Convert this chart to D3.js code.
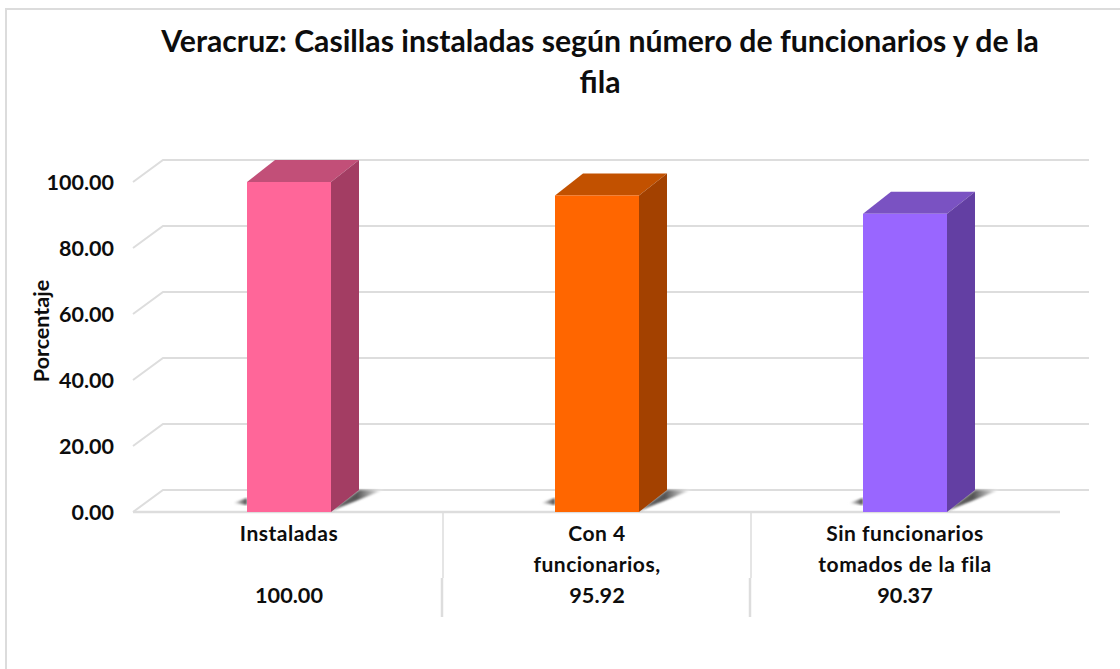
<!DOCTYPE html>
<html>
<head>
<meta charset="utf-8">
<script src="https://cdn.jsdelivr.net/npm/d3@7"></script>
<style>
  html, body { margin: 0; padding: 0; background: #fff; }
  svg { display: block; }
  text { font-family: Lato, "Open Sans", sans-serif; font-weight: 700; fill: #0d0d0d; }
</style>
</head>
<body>
<div id="chart"></div>
<script>
const titleLines = ["Veracruz: Casillas instaladas según número de funcionarios y de la", "fila"];
const categories = [["Instaladas"], ["Con 4", "funcionarios,"], ["Sin funcionarios", "tomados de la fila"]];
const values = [100.00, 95.92, 90.37];
const yTicks = [0, 20, 40, 60, 80, 100];
const frontColors = ["#FF6699", "#FF6600", "#9966FF"];
const topColors = ["#C24F78", "#C25100", "#7A52C2"];
const sideColors = ["#A33D63", "#A34100", "#633FA3"];

const width = 1120,
  height = 669,
  depthX = 28,
  depthY = 22,
  barWidth = 84;

const svg = d3.select("#chart").append("svg").attr("width", width).attr("height", height);

const x = d3.scaleBand().domain(d3.range(categories.length)).range([135, 1059]);
const y = d3.scaleLinear().domain([0, 100]).range([512, 182]);
const barLeft = (i) => x(i) + (x.bandwidth() - barWidth) / 2;

// outer frame, only top and left are visible in the picture
svg.append("path")
  .attr("d", "M6,669V9H1120")
  .attr("fill", "none")
  .attr("stroke", "#dcdcdc")
  .attr("stroke-width", 2);

// title
svg.append("g")
  .selectAll("text")
  .data(titleLines)
  .join("text")
  .attr("x", 600)
  .attr("y", (d, i) => 52 + i * 41)
  .attr("text-anchor", "middle")
  .style("font-size", "30.2px")
  .text((d) => d);

// gridlines with the 3D wall offset
svg.append("g")
  .selectAll("path")
  .data(yTicks)
  .join("path")
  .attr("d", (d) => {
    const p = d3.path();
    p.moveTo(133, y(d));
    p.lineTo(133 + 30, y(d) - depthY);
    p.lineTo(1089, y(d) - depthY);
    return p.toString();
  })
  .attr("fill", "none")
  .attr("stroke", "#dddddd")
  .attr("stroke-width", 2);

// front floor edge
svg.append("line")
  .attr("x1", 133).attr("x2", 1060)
  .attr("y1", y(0)).attr("y2", y(0))
  .attr("stroke", "#dddddd")
  .attr("stroke-width", 2.5);

// table separators below the axis
const separators = svg.append("g").attr("stroke", "#dddddd");
separators.selectAll("line.upper")
  .data(d3.range(1, categories.length))
  .join("line")
  .attr("class", "upper")
  .attr("x1", (i) => x(i)).attr("x2", (i) => x(i))
  .attr("y1", y(0)).attr("y2", 578)
  .attr("stroke-width", 1.5);
separators.selectAll("line.lower")
  .data(d3.range(1, categories.length))
  .join("line")
  .attr("class", "lower")
  .attr("x1", (i) => x(i) - 1).attr("x2", (i) => x(i) - 1)
  .attr("y1", 578).attr("y2", 617)
  .attr("stroke-width", 2.5);

// shadow gradients
const defs = svg.append("defs");
const gradRight = defs.append("linearGradient").attr("id", "shadowRight");
gradRight.append("stop").attr("offset", "0%").attr("stop-color", "#666");
gradRight.append("stop").attr("offset", "50%").attr("stop-color", "#555");
gradRight.append("stop").attr("offset", "100%").attr("stop-color", "#fff");
const gradLeft = defs.append("linearGradient").attr("id", "shadowLeft");
gradLeft.append("stop").attr("offset", "0%").attr("stop-color", "#fff");
gradLeft.append("stop").attr("offset", "100%").attr("stop-color", "#444");
defs.append("filter").attr("id", "soft").append("feGaussianBlur").attr("stdDeviation", 1);

const bars = svg.append("g")
  .selectAll("g")
  .data(values)
  .join("g");

// floor shadows
bars.append("path")
  .attr("d", (d, i) => {
    const l = barLeft(i);
    return `M${l - 14},${y(0) - 9}L${l},${y(0) - 14}L${l},${y(0) - 7}Z`;
  })
  .attr("fill", "url(#shadowLeft)")
  .attr("filter", "url(#soft)");
bars.append("path")
  .attr("d", (d, i) => {
    const r = barLeft(i) + barWidth;
    return `M${r},${y(0) - 1}L${r + depthX},${y(0) - depthY}L${r + 52},${y(0) - depthY}Z`;
  })
  .attr("fill", "url(#shadowRight)")
  .attr("filter", "url(#soft)");

// bar faces
bars.append("path")
  .attr("d", (d, i) => {
    const l = barLeft(i), t = y(d);
    return `M${l},${t}L${l + depthX},${t - depthY}H${l + barWidth + depthX}L${l + barWidth},${t}Z`;
  })
  .attr("fill", (d, i) => topColors[i]);
bars.append("path")
  .attr("d", (d, i) => {
    const r = barLeft(i) + barWidth, t = y(d);
    return `M${r},${t}L${r + depthX},${t - depthY}V${y(0) - depthY}L${r},${y(0)}Z`;
  })
  .attr("fill", (d, i) => sideColors[i]);
bars.append("rect")
  .attr("x", (d, i) => barLeft(i))
  .attr("y", (d) => y(d))
  .attr("width", barWidth)
  .attr("height", (d) => y(0) - y(d))
  .attr("fill", (d, i) => frontColors[i]);

// y axis labels
const yAxis = svg.append("g")
  .attr("transform", "translate(114,0)")
  .call(d3.axisLeft(y).tickValues(yTicks).tickSize(0).tickPadding(0).tickFormat(d3.format(".2f")));
yAxis.select(".domain").remove();
yAxis.selectAll("text").style("font-size", "21.5px").attr("dy", "0.36em");

// y axis title
svg.append("text")
  .attr("transform", "translate(49,331) rotate(-90)")
  .attr("text-anchor", "middle")
  .style("font-size", "21.5px")
  .text("Porcentaje");

// category labels
svg.append("g")
  .selectAll("text")
  .data(categories)
  .join("text")
  .attr("x", (d, i) => x(i) + x.bandwidth() / 2)
  .attr("y", 541)
  .attr("text-anchor", "middle")
  .style("font-size", "21px")
  .style("letter-spacing", "0.5px")
  .selectAll("tspan")
  .data((d) => d)
  .join("tspan")
  .attr("x", function () { return d3.select(this.parentNode).attr("x"); })
  .attr("dy", (d, i) => (i === 0 ? 0 : 31))
  .text((d) => d);

// value row
svg.append("g")
  .selectAll("text")
  .data(values)
  .join("text")
  .attr("x", (d, i) => x(i) + x.bandwidth() / 2)
  .attr("y", 603)
  .attr("text-anchor", "middle")
  .style("font-size", "21.7px")
  .text((d) => d3.format(".2f")(d));
</script>
</body>
</html>
